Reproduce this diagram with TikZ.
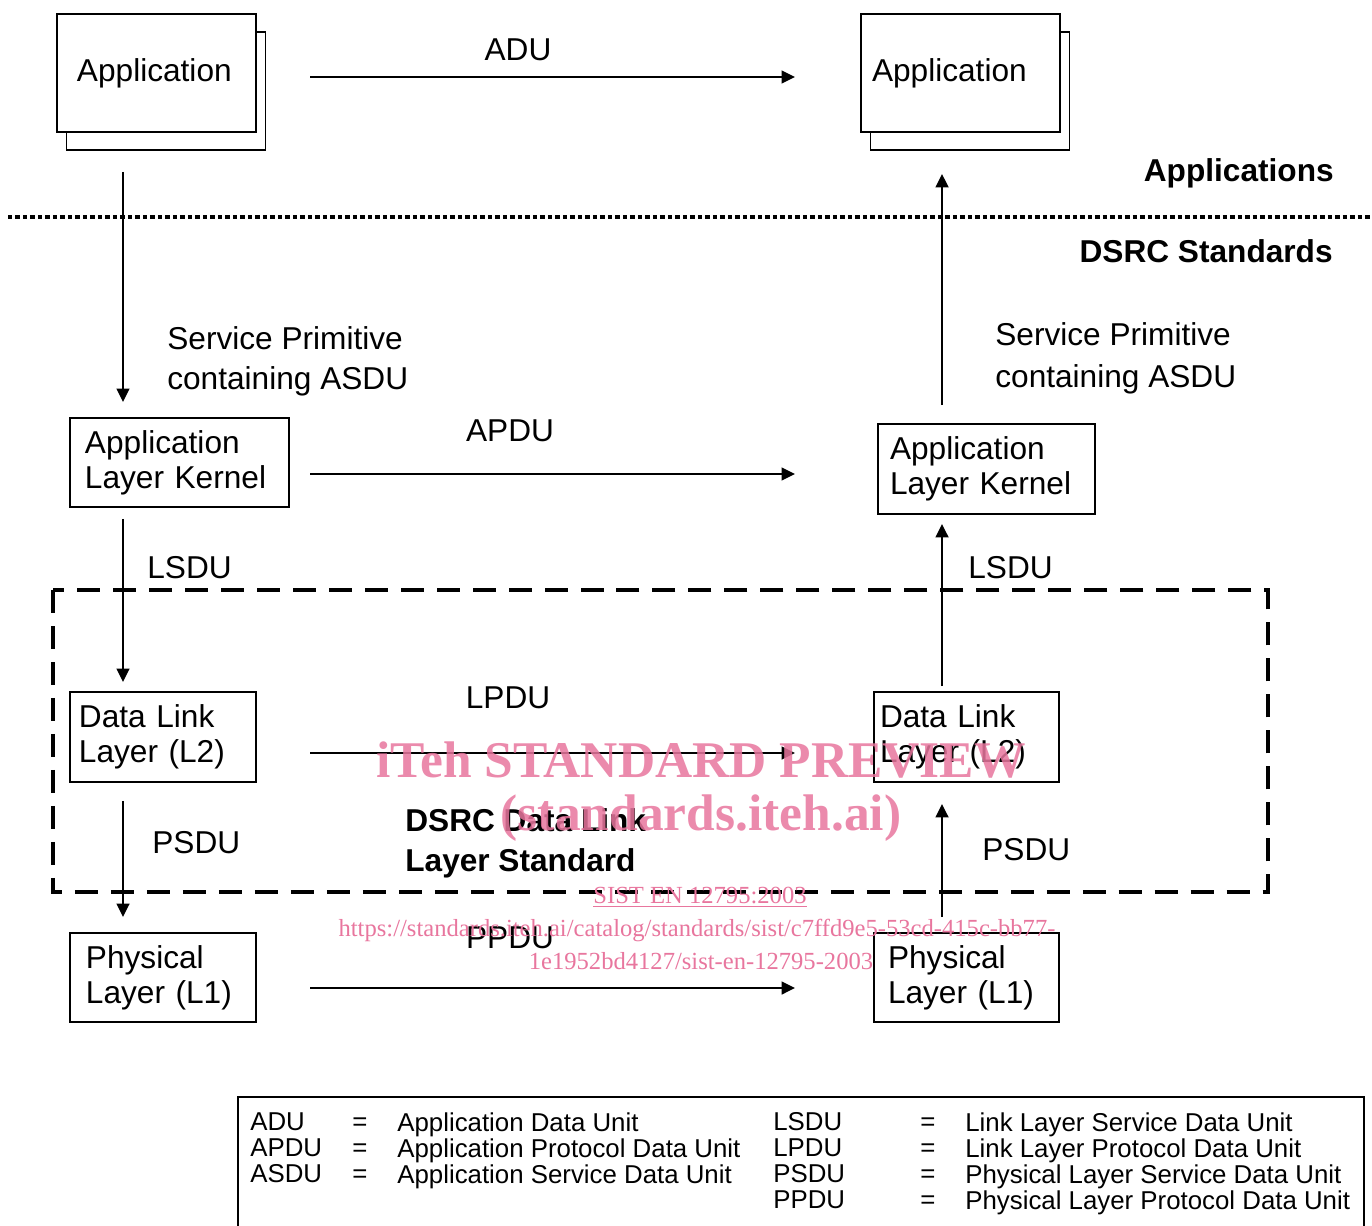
\documentclass[tikz,border=0pt]{standalone}
\usepackage{fontspec}
\setmainfont{Liberation Sans}
\newfontfamily\wmfont{Liberation Serif}
\usetikzlibrary{arrows.meta,shadows}

\definecolor{wmpink}{RGB}{232,118,158}

\tikzset{
  blk/.style={draw, line width=1pt, fill=white, anchor=north west, outer sep=0pt, inner ysep=0pt, align=left, font=\fontsize{18}{20}\selectfont},
  appblk/.style={blk, copy shadow={shadow xshift=0.19cm, shadow yshift=-0.36cm}},
  arr/.style={line width=1pt, -{Triangle[length=0.27cm,width=0.26cm]}},
  lbl/.style={inner sep=0pt, font=\fontsize{18}{20}\selectfont},
  ttl/.style={inner sep=0pt, font=\bfseries\fontsize{18}{22.8}\selectfont},
  leg/.style={inner sep=0pt, anchor=north west, align=left, font=\fontsize{14.7}{14.8}\selectfont},
  wm/.style={text=wmpink, inner sep=0pt, font=\wmfont\fontsize{14}{14}\selectfont},
  wmbig/.style={wm, text opacity=0.85, font=\wmfont\bfseries\fontsize{29.3}{29.3}\selectfont},
}

\begin{document}
\begin{tikzpicture}[x=0.02cm, y=-0.02cm]
\useasboundingbox (0,0) rectangle (1372,1225);

% Helper columns for the connectors
\coordinate (lcol) at (123,0);
\coordinate (rcol) at (942,0);
\coordinate (hs) at (310,0);
\coordinate (he) at (795,0);

% Applications
\node[appblk, text width=3.18cm, inner xsep=0.4cm, minimum height=2.36cm] (app1) at (57,14) {Application};
\node[appblk, text width=3.54cm, inner xsep=0.22cm, minimum height=2.36cm] (app2) at (861,14) {Application};
\draw[arr] ([yshift=-0.08cm]app1.east -| hs) -- ([yshift=-0.08cm]app2.west -| he);
\node[lbl, anchor=base] (adu) at (518,60) {ADU};

% Separator
\draw[line width=0.08cm, dash pattern=on 0.09cm off 0.06cm] (8,217) -- (1372,217);
\node[ttl, anchor=base east] (apps) at (1334,181) {Applications};
\node[ttl, anchor=base east] (dsrc) at (1333,262) {DSRC Standards};

% Application layer kernel
\node[blk, text width=3.78cm, inner xsep=0.3cm, minimum height=1.78cm] (alk1) at (70,418) {Application\\Layer Kernel};
\node[blk, text width=3.86cm, inner xsep=0.24cm, minimum height=1.8cm] (alk2) at (878,424) {Application\\Layer Kernel};
\draw[arr] ([yshift=-0.8cm]app1.south -| lcol) -- ([yshift=0.32cm]alk1.north -| lcol);
\draw[arr] ([yshift=0.38cm]alk2.north -| rcol) -- ([yshift=-0.84cm]app2.south -| rcol);
\node[lbl, anchor=north west, align=left, font=\fontsize{18}{22.8}\selectfont] (sp1) at (167,326) {Service Primitive\\containing ASDU};
\node[lbl, anchor=north west, align=left, font=\fontsize{18}{23.9}\selectfont] (sp2) at (995,322) {Service Primitive\\containing ASDU};
\draw[arr] ([yshift=-0.23cm]alk1.east -| hs) -- ([yshift=-0.1cm]alk2.west -| he);
\node[lbl, anchor=base] (apdu) at (510,441) {APDU};

% Data link layer
\draw[line width=0.09cm, dash pattern=on 0.46cm off 0.26cm] (53,590) rectangle (1268,892);
\node[blk, text width=3.36cm, inner xsep=0.18cm, minimum height=1.8cm] (dll1) at (70,692) {Data Link\\Layer (L2)};
\node[blk, text width=3.46cm, inner xsep=0.12cm, minimum height=1.8cm] (dll2) at (874,692) {Data Link\\Layer (L2)};
\draw[arr] ([yshift=-0.24cm]alk1.south -| lcol) -- ([yshift=0.2cm]dll1.north -| lcol);
\draw[arr] ([yshift=0.12cm]dll2.north -| rcol) -- ([yshift=-0.2cm]alk2.south -| rcol);
\node[lbl, anchor=base west] (lsdu1) at (147,578) {LSDU};
\node[lbl, anchor=base west] (lsdu2) at (968,578) {LSDU};
\draw[arr] ([yshift=-0.32cm]dll1.east -| hs) -- ([yshift=-0.32cm]dll2.west -| he);
\node[lbl, anchor=base] (lpdu) at (508,708) {LPDU};
\node[ttl, anchor=north west, align=left] (dlstd) at (405,808) {DSRC Data Link\\Layer Standard};

% Physical layer
\node[blk, text width=3.08cm, inner xsep=0.32cm, minimum height=1.78cm] (pl1) at (70,933) {Physical\\Layer (L1)};
\node[blk, text width=3.14cm, inner xsep=0.28cm, minimum height=1.78cm] (pl2) at (874,933) {Physical\\Layer (L1)};
\draw[arr] ([yshift=-0.38cm]dll1.south -| lcol) -- ([yshift=0.32cm]pl1.north -| lcol);
\draw[arr] ([yshift=0.32cm]pl2.north -| rcol) -- ([yshift=-0.44cm]dll2.south -| rcol);
\node[lbl, anchor=base west] (psdu1) at (152,853) {PSDU};
\node[lbl, anchor=base west] (psdu2) at (982,860) {PSDU};
\draw[arr] ([yshift=-0.21cm]pl1.east -| hs) -- ([yshift=-0.21cm]pl2.west -| he);
\node[lbl, anchor=base] (ppdu) at (510,948) {PPDU};

% Legend
\draw[line width=1pt] (238,1240) |- (1364,1097) -- (1364,1240);
\node[leg] (ab1) at (250,1112) {ADU\\APDU\\ASDU};
\node[leg] (eq1) at (352,1112) {\vphantom{A}=\\=\\=};
\node[leg] (df1) at (397,1112) {Application Data Unit\\Application Protocol Data Unit\\Application Service Data Unit};
\node[leg] (ab2) at (773,1112) {LSDU\\LPDU\\PSDU\\PPDU};
\node[leg] (eq2) at (920,1112) {\vphantom{A}=\\=\\=\\=};
\node[leg] (df2) at (965,1112) {Link Layer Service Data Unit\\Link Layer Protocol Data Unit\\Physical Layer Service Data Unit\\Physical Layer Protocol Data Unit};

% Watermark
\node[wmbig] (wm1) at (701,760) {iTeh STANDARD PREVIEW};
\node[wmbig] (wm2) at (701,818) {(standards.iteh.ai)};
\node[wm] (wm3) at (700,897) {\underline{SIST EN 12795:2003}};
\node[wm] (wm4) at (697,930) {https://standards.iteh.ai/catalog/standards/sist/c7ffd9e5-53cd-415c-bb77-};
\node[wm] (wm5) at (701,961) {1e1952bd4127/sist-en-12795-2003};
\end{tikzpicture}
\end{document}
